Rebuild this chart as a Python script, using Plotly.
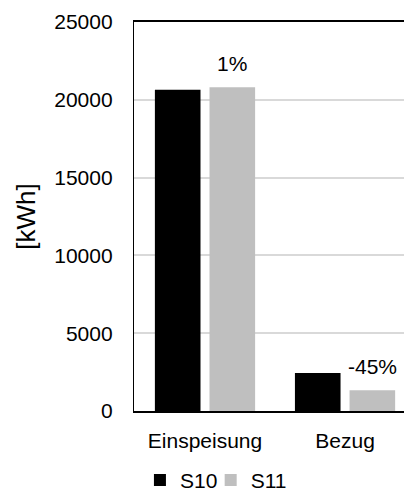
import plotly.graph_objects as go

# Energy balance per scenario
categories = ["Einspeisung", "Bezug"]
s10_values = [20650, 2450]
s11_values = [20800, 1340]
series_names = ["S10", "S11"]
y_ticks = [0, 5000, 10000, 15000, 20000, 25000]

FONT = dict(family="Liberation Sans, Arial, sans-serif", size=21, color="#000000")
TITLE_FONT = dict(family="Liberation Sans, Arial, sans-serif", size=26, color="#000000")
BARGAP = 0.22
BARGROUPGAP = 0.165
PX_PER_CAT = 140

fig = go.Figure()
fig.add_trace(go.Bar(x=categories, y=s10_values, name=series_names[0],
                     marker=dict(color="#000000", line=dict(width=0)),
                     legend="legend"))
fig.add_trace(go.Bar(x=categories, y=s11_values, name=series_names[1],
                     marker=dict(color="#bfbfbf", line=dict(width=0)),
                     legend="legend2"))

# relative change labels above the S11 bars
slot = (1 - BARGAP) / 2
for cat, a, b in zip(categories, s10_values, s11_values):
    pct = round((b - a) / a * 100)
    fig.add_annotation(x=cat, y=b, text=f"{pct}%", showarrow=False,
                       xshift=slot / 2 * PX_PER_CAT, yshift=10,
                       yanchor="bottom", font=FONT)

# one legend box per series so the entries sit close together
legend_style = dict(orientation="h", xanchor="left", y=-0.178, yanchor="middle",
                    font=FONT, itemwidth=30, bgcolor="rgba(0,0,0,0)")

fig.update_layout(
    width=404, height=492,
    margin=dict(l=134, r=0, t=22, b=81, autoexpand=False),
    paper_bgcolor="white", plot_bgcolor="white",
    font=FONT,
    barmode="group", bargap=BARGAP, bargroupgap=BARGROUPGAP,
    showlegend=True,
    legend=dict(x=0.022, **legend_style),
    legend2=dict(x=0.284, **legend_style),
)
fig.update_xaxes(
    range=[-0.507, 1.421], showline=True, linecolor="#000000", linewidth=2,
    mirror=True, ticks="", ticklabelstandoff=10, showgrid=False, automargin=False,
)
fig.update_yaxes(
    range=[0, 25000], tickvals=y_ticks, tickformat="d", showline=True,
    linecolor="#000000", linewidth=1.3, showgrid=True, gridcolor="#d9d9d9",
    gridwidth=1.5, ticks="", ticklabelstandoff=16, zeroline=False, automargin=False,
    title=dict(text="[kWh]", standoff=11, font=TITLE_FONT),
)

fig.write_html("out.html")
